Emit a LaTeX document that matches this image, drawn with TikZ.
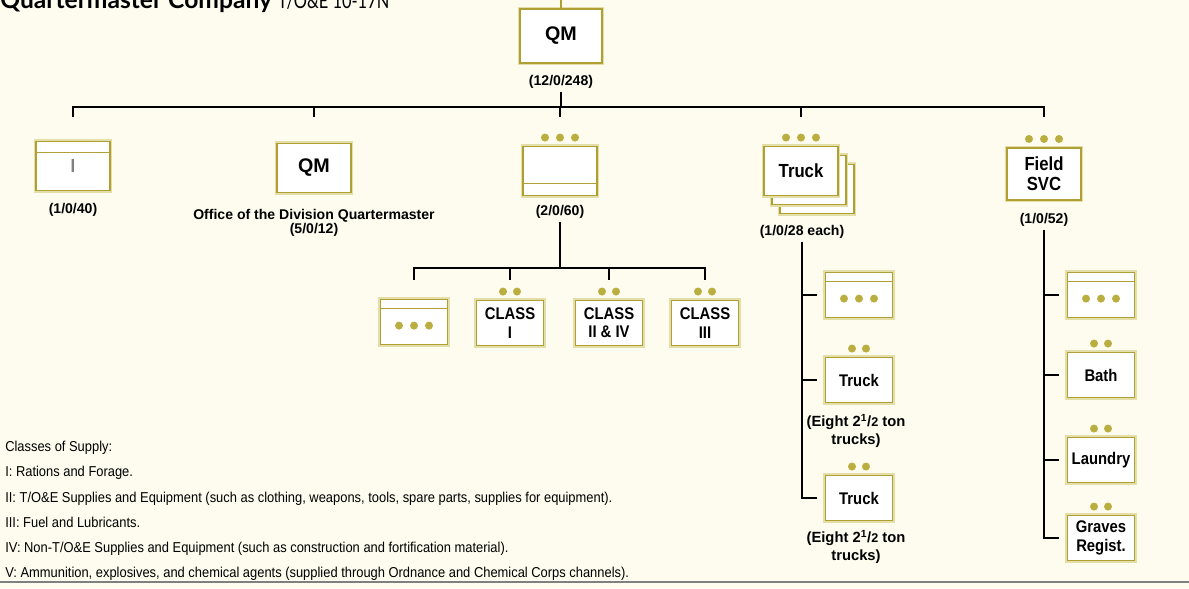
\documentclass[tikz,border=0pt]{standalone}
\usepackage{fontspec}
\setmainfont{Liberation Sans}
\newfontfamily\boxfont{Liberation Sans}[FakeStretch=0.88]
\newfontfamily\keyfont{Liberation Sans}[FakeStretch=0.9]
\newfontfamily\titlefont{Lato}
\newfontfamily\titlethin{Lato}[FakeStretch=0.78]
\usetikzlibrary{positioning,calc}

\definecolor{paper}{RGB}{253,252,238}
\definecolor{gold}{RGB}{176,160,52}
\definecolor{glow}{RGB}{228,222,168}
\definecolor{dotc}{RGB}{186,174,64}

% dots over a unit box: #1 node, #2 x offsets (px)
\newcommand{\dotsover}[2]{%
  \foreach \dx in {#2} \fill[dotc] ([xshift=\dx*0.025cm, yshift=0.21cm]#1.north) circle (0.1cm);}
% dots inside a unit box
\newcommand{\dotsin}[1]{%
  \foreach \dx in {-15,0,15} \fill[dotc] ([xshift=\dx*0.025cm, yshift=-0.09cm]#1.center) circle (0.1cm);}

\begin{document}
\begin{tikzpicture}[x=0.025cm, y=-0.025cm,
    unit/.style={draw=gold, line width=0.9pt, fill=white, inner sep=1pt, align=center,
      font=\fontsize{13.5}{14}\boxfont\bfseries,
      preaction={draw=glow, line width=3.5pt}},
    big/.style={unit, minimum width=2.05cm, minimum height=1.35cm},
    mid/.style={unit, minimum width=1.85cm, minimum height=1.22cm},
    sml/.style={unit, minimum width=1.68cm, minimum height=1.12cm, font=\fontsize{12}{13}\boxfont\bfseries},
    qm/.style={font=\fontsize{14}{15}\selectfont\bfseries},
    topband/.style={path picture={\draw[gold, line width=0.9pt]
      ([yshift=-#1]path picture bounding box.north west) -- ([yshift=-#1]path picture bounding box.north east);}},
    botband/.style={path picture={\draw[gold, line width=0.9pt]
      ([yshift=#1]path picture bounding box.south west) -- ([yshift=#1]path picture bounding box.south east);}},
    count/.style={font=\fontsize{10}{9.5}\selectfont\bfseries, align=center, inner sep=0pt},
    legend/.style={font=\fontsize{10.2}{11}\keyfont, anchor=base west, inner sep=0pt},
    link/.style={line width=1.3pt, black},
]
\fill[paper] (0,0) rectangle (1189,588);
\useasboundingbox (0,0) rectangle (1189,588);

% title, cut by the page edge
\node[anchor=base west, inner sep=0pt] (title) at (0,8)
  {\fontsize{17.5}{18}\titlefont\bfseries Quartermaster Company {\fontsize{15}{16}\titlethin\mdseries T/O\&E 10-17N}};

% company
\node[big, qm] (hq) at (561,36) {QM};
\node[count] (hqlbl) at (561,82) {(12/0/248)};
\coordinate (topedge) at (561,0);
\draw[gold, line width=1pt] (hq.north) -- (topedge);

% first row
\node[mid, topband=0.275cm] (pltI) at (73,166) {\raisebox{-0.17cm}{\textcolor{gray}{I}}};
\node[count] (pltIlbl) at (73,210) {(1/0/40)};

\node[mid, qm] (qmoff) at (314,168) {QM};
\node[count] (qmofflbl) at (314,223) {Office of the Division Quartermaster\\(5/0/12)};

\node[mid, botband=0.3cm] (depot) at (560,171) {};
\dotsover{depot}{-15,0,15}
\node[count] (depotlbl) at (560,212) {(2/0/60)};

\node[mid] (trk3) at (817,189) {};
\node[mid] (trk2) at (809,180) {};
\node[mid] (trk) at (801,171) {Truck};
\dotsover{trk}{-15,0,15}
\node[count] (trklbl) at (802,232) {(1/0/28 each)};

\node[mid, minimum height=1.3cm] (fsvc) at (1044,174) {Field\\SVC};
\dotsover{fsvc}{-15,0,15}
\node[count] (fsvclbl) at (1044,220) {(1/0/52)};

\coordinate (bus) at (0,107);
\coordinate (busdrop) at (0,117);
\draw[link] ([yshift=-2pt]hqlbl.south) -- (hqlbl.south |- bus);
\draw[link] (pltI |- busdrop) -- (pltI |- bus) -- (fsvc |- bus) -- (fsvc |- busdrop);
\foreach \n in {qmoff,depot,trk}
  \draw[link] (\n |- bus) -- (\n |- busdrop);

% supply sections
\node[sml, topband=0.225cm] (dA) at (414,322) {};
\dotsin{dA}
\node[sml] (c1) at (510,323) {CLASS\\I};
\node[sml] (c2) at (609,323) {CLASS\\II \& IV};
\node[sml] (c3) at (705,323) {CLASS\\III};
\foreach \n in {c1,c2,c3} {\dotsover{\n}{-7,7}}

\coordinate (dbus) at (0,268);
\coordinate (ddrop) at (0,280);
\draw[link] ([yshift=-2pt]depotlbl.south) -- (depotlbl.south |- dbus);
\draw[link] (dA |- ddrop) -- (dA |- dbus) -- (c3 |- dbus) -- (c3 |- ddrop);
\foreach \n in {c1,c2}
  \draw[link] (\n |- dbus) -- (\n |- ddrop);

% truck platoons
\node[sml, topband=0.225cm] (tA) at (859,295) {};
\dotsin{tA}
\node[sml] (tB) at (859,380) {Truck};
\node[sml] (tC) at (859,498) {Truck};
\foreach \n in {tB,tC} {\dotsover{\n}{-7,7}}
\node[count, font=\fontsize{10.5}{12.8}\selectfont\bfseries] (tBlbl) at (856,431)
  {(Eight 2\textsuperscript{1}/{\small 2} ton\\trucks)};
\node[count, font=\fontsize{10.5}{12.8}\selectfont\bfseries] (tClbl) at (856,547)
  {(Eight 2\textsuperscript{1}/{\small 2} ton\\trucks)};

\draw[link] ([yshift=-2pt]trklbl.south) |- ([xshift=-0.2cm]tC.west);
\foreach \n in {tA,tB}
  \draw[link] (trklbl.south |- \n) -- ([xshift=-0.2cm]\n.west);

% field service platoons
\node[sml, topband=0.225cm] (fA) at (1101,295) {};
\dotsin{fA}
\node[sml] (fB) at (1101,375) {Bath};
\node[sml] (fC) at (1101,460) {Laundry};
\node[sml] (fD) at (1101,538) {Graves\\Regist.};
\foreach \n in {fB,fC,fD} {\dotsover{\n}{-7,7}}

\draw[link] ([yshift=-2pt]fsvclbl.south) |- ([xshift=-0.2cm]fD.west);
\foreach \n in {fA,fB,fC}
  \draw[link] (fsvclbl.south |- \n) -- ([xshift=-0.2cm]\n.west);

% classes of supply
\node[legend] (k0) at (5,451) {Classes of Supply:};
\node[legend] (k1) at (5,476) {I: Rations and Forage.};
\node[legend] (k2) at (5,502) {II: T/O\&E Supplies and Equipment (such as clothing, weapons, tools, spare parts, supplies for equipment).};
\node[legend] (k3) at (5,527) {III: Fuel and Lubricants.};
\node[legend] (k4) at (5,552) {IV: Non-T/O\&E Supplies and Equipment (such as construction and fortification material).};
\node[legend] (k5) at (5,577) {V: Ammunition, explosives, and chemical agents (supplied through Ordnance and Chemical Corps channels).};

\draw[gray, line width=1.5pt] (0,582) -- (1189,582);
\end{tikzpicture}
\end{document}
